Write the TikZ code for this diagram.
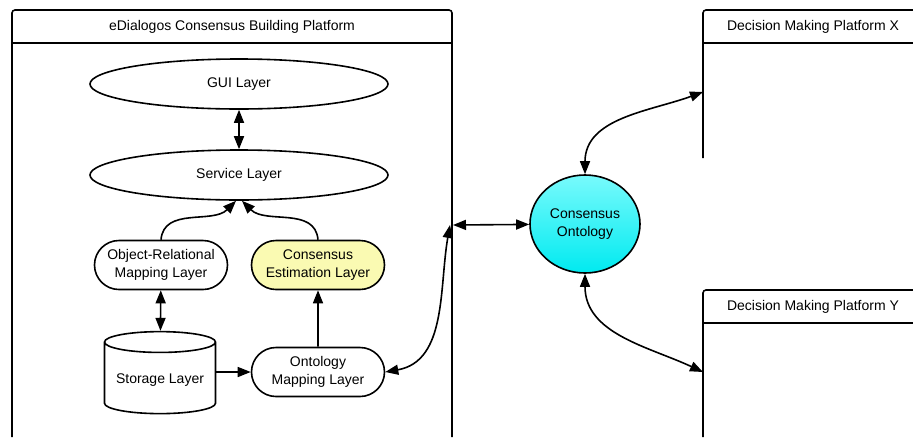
\documentclass[tikz,border=0pt]{standalone}
\usepackage{fontspec}
\setmainfont{Liberation Sans}
\usetikzlibrary{shapes.geometric,shapes.misc,arrows.meta,positioning}

\definecolor{estyellow}{RGB}{250,250,178}
\definecolor{ontotop}{RGB}{120,250,252}
\definecolor{ontobot}{RGB}{0,234,240}

\tikzset{
	tri/.tip={Triangle[length=13pt,width=10pt]},
	layer/.style={ellipse,draw,minimum width=298pt,minimum height=50pt},
	box/.style={rounded rectangle,draw,minimum width=141pt,minimum height=49pt,align=center,inner xsep=4pt},
	store/.style={cylinder,shape border rotate=90,draw,aspect=0.22,minimum width=111pt,minimum height=82pt},
	link/.style={tri-tri},
	oneway/.style={-tri}
}

\begin{document}
\begin{tikzpicture}[x=1pt,y=-1pt,line width=1.6pt,
	every node/.style={font=\fontsize{14}{17.5}\selectfont}]
	\useasboundingbox (0,0) rectangle (913,437);

	% platform frames
	\draw[rounded corners=3pt] (12,437) -- (12,10) -- (452,10) -- (452,437);
	\draw (12,43) -- (452,43);
	\node (mainTitle) at (232,27) {eDialogos Consensus Building Platform};

	\draw[rounded corners=3pt] (703,158) -- (703,10) -- (913,10);
	\draw (703,43) -- (913,43);
	\node (xTitle) at (813,27) {Decision Making Platform X};

	\draw[rounded corners=3pt] (703,437) -- (703,290) -- (913,290);
	\draw (703,323) -- (913,323);
	\node (yTitle) at (813,307) {Decision Making Platform Y};

	% layers
	\node[layer] (gui) at (239,84) {GUI Layer};
	\node[layer] (svc) at (239,175) {Service Layer};
	\node[box] (orm) at (161,265) {Object-Relational\\Mapping Layer};
	\node[box,fill=estyellow] (cel) at (318,265) {Consensus\\Estimation Layer};
	\node[store] (stor) at (160,380) {Storage Layer};
	\node[box] (oml) at (318,372) {Ontology\\Mapping Layer};

	\node[ellipse,draw,minimum width=110pt,minimum height=98pt,align=center,
		top color=ontotop,bottom color=ontobot] (co) at (585,224) {Consensus\\Ontology};

	\coordinate (junc) at (450,225);
	\coordinate (xin) at (703,92);
	\coordinate (yin) at (703,372);

	% connectors
	\draw[link] (gui) -- (svc);
	\draw[oneway] (orm.north) to[out=85,in=-135] ([xshift=-3pt]svc.south);
	\draw[oneway] (cel.north) to[out=95,in=-45] ([xshift=3pt]svc.south);
	\draw[link] (orm) -- (stor);
	\draw[oneway] (stor.east |- oml.west) -- (oml.west);
	\draw[oneway] (oml) -- (cel);
	\draw[link] (oml.east) to[out=10,in=-100] (junc);
	\draw[link] ([xshift=3pt]junc) -- (co);
	\draw[link] (co.north) to[out=90,in=200] (xin);
	\draw[link] (co.south) to[out=-90,in=155] (yin);
\end{tikzpicture}
\end{document}
